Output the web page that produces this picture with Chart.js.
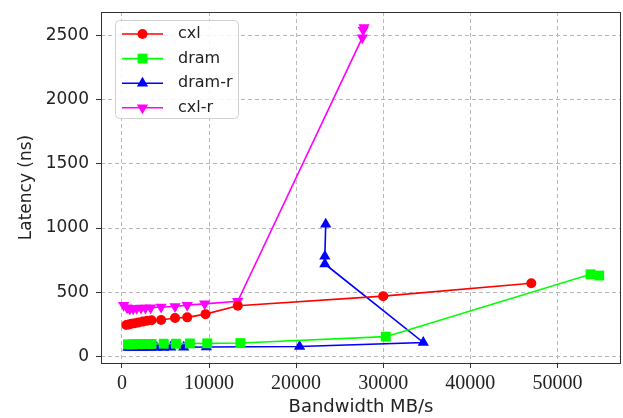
<!DOCTYPE html>
<html>
<head>
<meta charset="utf-8">
<script src="https://cdn.jsdelivr.net/npm/chart.js@4.4.0/dist/chart.umd.min.js"></script>
<style>
  html, body { margin: 0; padding: 0; background: #fff; }
</style>
</head>
<body>
<canvas id="latencyChart" width="623" height="418"></canvas>
<script>
// bandwidth (MB/s) and latency (ns) per series
const cxlBw = [500, 800, 1100, 1500, 1900, 2400, 2900, 3400, 4500, 6100, 7500, 9600, 13300, 30000, 47000];
const cxlLat = [245, 250, 255, 260, 265, 272, 278, 283, 285, 300, 305, 330, 395, 470, 570];

const dramBw = [700, 1200, 1700, 2200, 2800, 3400, 4800, 6200, 7800, 9800, 13600, 30300, 53800, 54800];
const dramLat = [95, 95, 97, 97, 98, 98, 100, 100, 102, 103, 105, 155, 640, 630];

const dramRBw = [700, 1000, 1300, 1600, 2000, 2400, 2800, 3300, 4000, 4800, 5600, 7100, 9700, 20400, 34600, 23300, 23300, 23400];
const dramRLat = [70, 70, 70, 70, 70, 70, 70, 70, 70, 70, 72, 72, 75, 78, 110, 720, 780, 1030];

const cxlRBw = [200, 600, 900, 1300, 1700, 2200, 2700, 3300, 4500, 6100, 7500, 9500, 13300, 27600, 27700, 27800];
const cxlRLat = [400, 380, 370, 372, 375, 377, 378, 380, 385, 390, 400, 410, 430, 2480, 2540, 2560];

const xTicks = [0, 10000, 20000, 30000, 40000, 50000];
const yTicks = [0, 500, 1000, 1500, 2000, 2500];

function toPoints(xs, ys) {
    return xs.map(function(x, i) { return { x: x, y: ys[i] }; });
}

function series(label, xs, ys, color, style, radius, rotation) {
    return {
        label: label,
        data: toPoints(xs, ys),
        showLine: true,
        borderColor: color,
        backgroundColor: color,
        borderWidth: 1.6,
        pointStyle: style,
        pointRadius: radius,
        pointHoverRadius: radius,
        pointRotation: rotation || 0,
        pointBorderWidth: 0,
        tension: 0
    };
}

// legend drawn inside the plot, matplotlib style
const legendBox = {
    id: 'legendBox',
    afterDatasetsDraw(chart) {
        const ctx = chart.ctx;
        const area = chart.chartArea;
        const x0 = area.left + 14, y0 = area.top + 8, w = 123, h = 98;
        ctx.save();
        ctx.beginPath();
        ctx.roundRect(x0 + 0.5, y0 + 0.5, w, h, 4);
        ctx.fillStyle = 'rgba(255,255,255,0.85)';
        ctx.fill();
        ctx.strokeStyle = '#d0d0d0';
        ctx.lineWidth = 1;
        ctx.stroke();
        chart.data.datasets.forEach(function(ds, i) {
            const y = y0 + 14 + i * 24.6;
            ctx.strokeStyle = ds.borderColor;
            ctx.lineWidth = 1.6;
            ctx.beginPath();
            ctx.moveTo(x0 + 7, y);
            ctx.lineTo(x0 + 48, y);
            ctx.stroke();
            ctx.fillStyle = ds.backgroundColor;
            Chart.helpers.drawPoint(ctx, {
                pointStyle: ds.pointStyle,
                rotation: ds.pointRotation,
                radius: ds.pointRadius,
                borderWidth: 0
            }, x0 + 27.5, y);
            ctx.fillStyle = '#222';
            ctx.font = '16px "DejaVu Sans"';
            ctx.textBaseline = 'middle';
            ctx.textAlign = 'left';
            ctx.fillText(ds.label, x0 + 63, y);
        });
        ctx.restore();
    }
};

// box around the plot area
const frame = {
    id: 'frame',
    afterDraw(chart) {
        const a = chart.chartArea;
        const ctx = chart.ctx;
        ctx.save();
        ctx.strokeStyle = '#333';
        ctx.lineWidth = 1;
        ctx.strokeRect(Math.round(a.left) + 0.5, Math.round(a.top) + 0.5,
            Math.round(a.right - a.left) - 1, Math.round(a.bottom - a.top));
        ctx.restore();
    }
};

new Chart(document.getElementById('latencyChart').getContext('2d'), {
    type: 'scatter',
    data: {
        datasets: [
            series('cxl', cxlBw, cxlLat, '#ff0000', 'circle', 5),
            series('dram', dramBw, dramLat, '#00ff00', 'rect', 7),
            series('dram-r', dramRBw, dramRLat, '#0000ff', 'triangle', 6.5),
            series('cxl-r', cxlRBw, cxlRLat, '#ff00ff', 'triangle', 6.5, 180)
        ]
    },
    options: {
        responsive: false,
        animation: false,
        layout: { autoPadding: false, padding: { top: 12, right: 2, left: 0, bottom: 0 } },
        plugins: {
            legend: { display: false },
            tooltip: { enabled: false }
        },
        scales: {
            x: {
                type: 'linear',
                min: -2400,
                max: 57300,
                afterBuildTicks: function(scale) {
                    scale.ticks = xTicks.map(function(v) { return { value: v }; });
                },
                afterFit: function(scale) {
                    scale.height = 55;
                    scale.paddingLeft = 0;
                    scale.paddingRight = 0;
                },
                ticks: {
                    color: '#222',
                    padding: 4,
                    maxRotation: 0,
                    font: { family: '"Liberation Serif", serif', size: 20 },
                    callback: function(v) { return String(v); }
                },
                grid: { color: '#b8b8b8', tickColor: '#333', tickLength: 5, lineWidth: 1 },
                border: { display: false, dash: [4, 3] },
                title: {
                    display: true,
                    text: 'Bandwidth MB/s',
                    color: '#222',
                    font: { family: '"DejaVu Sans"', size: 18 },
                    padding: { top: 0, bottom: 0 }
                }
            },
            y: {
                type: 'linear',
                min: -50,
                max: 2680,
                afterBuildTicks: function(scale) {
                    scale.ticks = yTicks.map(function(v) { return { value: v }; });
                },
                afterFit: function(scale) {
                    scale.width = 101;
                    scale.paddingTop = 0;
                    scale.paddingBottom = 0;
                },
                ticks: {
                    color: '#222',
                    padding: 7,
                    font: { family: '"DejaVu Sans"', size: 17 },
                    callback: function(v) { return String(v); }
                },
                grid: { color: '#b8b8b8', tickColor: '#333', tickLength: 5, lineWidth: 1 },
                border: { display: false, dash: [4, 3] },
                title: {
                    display: true,
                    text: 'Latency (ns)',
                    color: '#222',
                    font: { family: '"DejaVu Sans"', size: 17 },
                    padding: { top: 16, bottom: 0 }
                }
            }
        }
    },
    plugins: [legendBox, frame]
});
</script>
</body>
</html>
